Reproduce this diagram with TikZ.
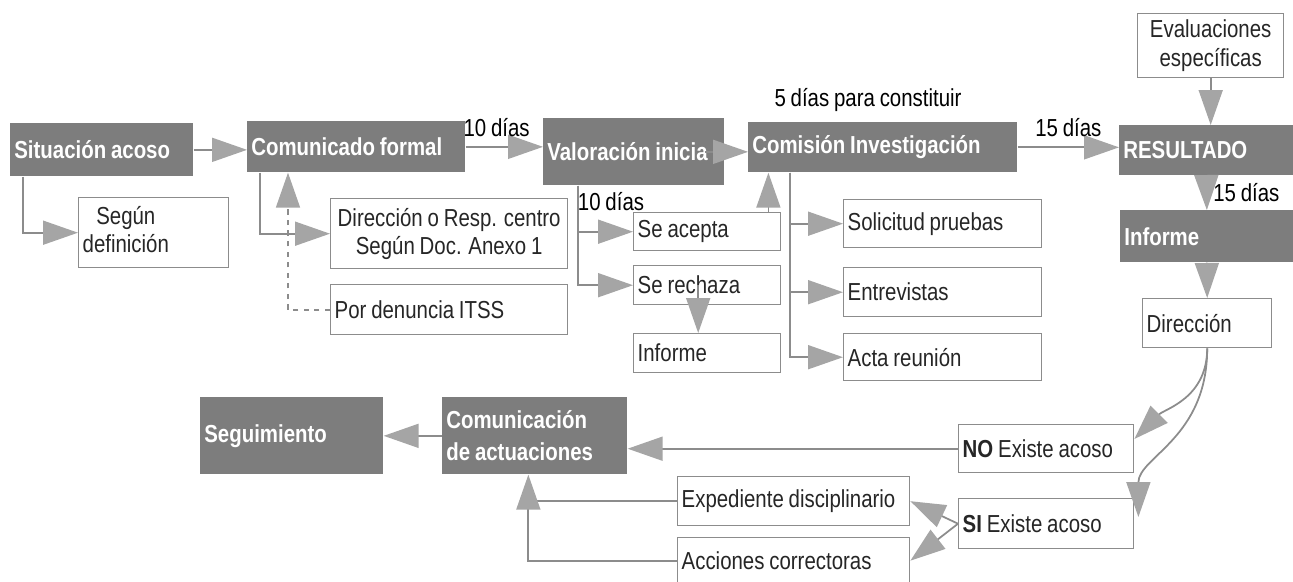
\documentclass[tikz,border=0pt]{standalone}
\usepackage{fontspec}
\setmainfont{Liberation Sans}[FakeStretch=0.83, WordSpace=0.85]
\usetikzlibrary{arrows.meta}
\definecolor{boxgray}{RGB}{125,125,125}
\definecolor{linegray}{RGB}{140,140,140}
\definecolor{tipgray}{RGB}{165,165,165}
\begin{document}
\begin{tikzpicture}[x=0.02cm, y=-0.02cm,
    font=\fontsize{14}{16}\selectfont,
    dark/.style={fill=boxgray, text=white, font=\fontsize{14}{18}\selectfont\bfseries, anchor=north west, inner xsep=0.08cm, inner ysep=0pt, align=flush left},
    plain/.style={draw=linegray, line width=0.8pt, fill=white, text=black!85, anchor=north west, inner xsep=0.08cm, inner ysep=0pt, align=flush left},
    arr/.style={draw=linegray, line width=1pt, -{Triangle[length=0.7cm, width=0.48cm, color=tipgray, fill=tipgray]}},
    link/.style={draw=linegray, line width=1pt}]
    \useasboundingbox (0,0) rectangle (1293,581);

    % top row
    \node[dark, text width=3.5cm, minimum height=1.06cm] (situacion) at (10,123) {Situación acoso};
    \node[dark, text width=4.2cm, minimum height=1.02cm] (comunicado) at (247,121) {Comunicado formal};
    \node[dark, text width=3.46cm, minimum height=1.34cm] (valoracion) at (543,118) {Valoración inicia};
    \node[dark, text width=5.22cm, minimum height=1.0cm] (comision) at (748,122) {Comisión Investigación};
    \node[dark, text width=3.32cm, minimum height=1.0cm] (resultado) at (1119,125) {RESULTADO};
    \node[dark, text width=3.3cm, minimum height=1.04cm] (informeb) at (1120,210) {Informe};

    \node[plain, text width=2.84cm, minimum height=1.4cm] (segun) at (78,197) {\begin{tabular}{@{}c@{}}Según\\definición\end{tabular}};
    \node[plain, minimum width=4.74cm, minimum height=1.4cm, align=center] (dirresp) at (330,198) {Dirección o Resp. centro\\Según Doc. Anexo 1};
    \node[plain, text width=4.58cm, minimum height=1.0cm] (itss) at (330,284) {Por denuncia ITSS};

    \node[plain, text width=2.78cm, minimum height=0.76cm] (acepta) at (633,212) {Se acepta};
    \node[plain, text width=2.78cm, minimum height=0.78cm] (rechaza) at (633,265) {Se rechaza};
    \node[plain, text width=2.78cm, minimum height=0.78cm] (informea) at (633,333) {Informe};

    \node[plain, text width=3.8cm, minimum height=0.96cm] (solicitud) at (843,199) {Solicitud pruebas};
    \node[plain, text width=3.8cm, minimum height=0.98cm] (entrevistas) at (843,267) {Entrevistas};
    \node[plain, text width=3.8cm, minimum height=0.94cm] (acta) at (843,333) {Acta reunión};

    \node[plain, minimum width=2.92cm, minimum height=1.28cm, align=center] (evaluaciones) at (1137,13) {Evaluaciones\\específicas};
    \node[plain, text width=2.42cm, minimum height=0.98cm] (direccion) at (1142,298) {Dirección};

    % bottom part
    \node[plain, text width=3.34cm, minimum height=0.96cm] (noacoso) at (958,424) {\textbf{NO} Existe acoso};
    \node[plain, text width=3.34cm, minimum height=1.0cm] (siacoso) at (958,498) {\textbf{SI} Existe acoso};
    \node[plain, text width=4.48cm, minimum height=0.98cm] (expediente) at (677,476) {Expediente disciplinario};
    \node[plain, text width=4.48cm, minimum height=0.92cm] (acciones) at (677,537) {Acciones correctoras};
    \node[dark, text width=3.54cm, minimum height=1.54cm] (comact) at (442,397) {Comunicación\\de actuaciones};
    \node[dark, text width=3.5cm, minimum height=1.54cm] (seguimiento) at (200,397) {Seguimiento};

    % labels
    \node (dias1) at (611,202) {10 días};
    \node (dias5) at (868,100) {5 días para constituir};

    % connectors
    \draw[arr] (situacion.east) -- (situacion.east -| comunicado.west);
    \draw[arr] ([xshift=0.26cm]situacion.south west) |- (segun.west);
    \draw[arr] ([xshift=0.26cm]comunicado.south west) |- (dirresp.west);
    \draw[arr, dashed] (itss.west) -| ([xshift=0.82cm]comunicado.south west);
    \draw[arr] (comunicado.east) -- (comunicado.east -| valoracion.west) node[pos=0.4, above=2pt] (dias2) {10 días};
    \draw[arr] ([xshift=-0.4cm]valoracion.east) -- (valoracion.east -| comision.west);
    \draw[arr] ([xshift=0.7cm]valoracion.south west) |- (acepta.west);
    \draw[arr] ([xshift=0.7cm]valoracion.south west) |- (rechaza.west);
    \draw[arr] ([xshift=-0.26cm]acepta.north east) -- ([xshift=-0.26cm]acepta.north east |- comision.south);
    \draw[arr] ([xshift=-0.18cm]rechaza.center) -- ([xshift=-0.18cm]informea.north);
    \draw[arr] ([xshift=0.84cm]comision.south west) |- (solicitud.west);
    \draw[arr] ([xshift=0.84cm]comision.south west) |- (entrevistas.west);
    \draw[arr] ([xshift=0.84cm]comision.south west) |- (acta.west);
    \draw[arr] (comision.east) -- (comision.east -| resultado.west) node[midway, above=2pt] (dias3) {15 días};
    \draw[arr] (evaluaciones.south) -- (evaluaciones.south |- resultado.north);
    \draw[arr] (resultado.south) -- (informeb.north) node[midway, right=0pt] (dias4) {15 días};
    \draw[arr] (informeb.south) -- (direccion.north);
    \draw[arr] (direccion.south) .. controls +(0,50) and +(30,-30) .. ([yshift=-0.3cm]noacoso.north east);
    \draw[arr] (direccion.south) .. controls +(0,90) and +(0,-60) .. ([xshift=0.08cm, yshift=-0.38cm]siacoso.north east);
    \draw[arr] (noacoso.west) -- (noacoso.west -| comact.east);
    \draw[arr] (siacoso.west) -- (expediente.east);
    \draw[arr] (siacoso.west) -- (acciones.east);
    \draw[link] (expediente.west) -- ([xshift=-0.13cm]comact.south |- expediente.west);
    \draw[arr] (acciones.west) -| ([xshift=-0.13cm]comact.south);
    \draw[arr] (comact.west) -- (seguimiento.east);
\end{tikzpicture}
\end{document}
